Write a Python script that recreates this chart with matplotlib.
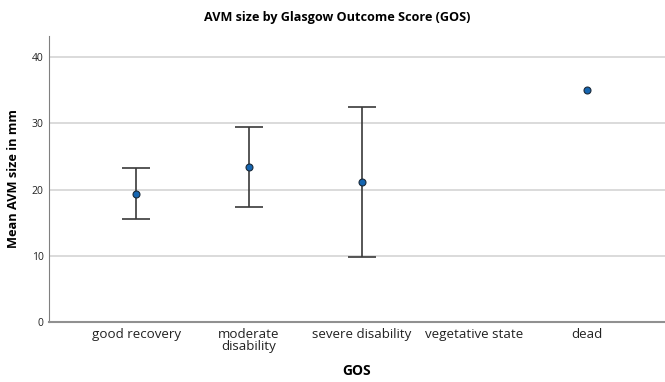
import matplotlib
matplotlib.use('Agg')
import matplotlib.pyplot as plt
import numpy as np

categories = ['good recovery', 'moderate\ndisability', 'severe disability', 'vegetative state', 'dead']
means = [19.4, 23.4, 21.2, np.nan, 35.0]
upper = [23.2, 29.5, 32.5, np.nan, np.nan]
lower = [15.6, 17.4, 9.8, np.nan, np.nan]

plt.rcParams['font.family'] = ['Open Sans', 'DejaVu Sans']

fig = plt.figure(figsize=(6.65, 3.82), dpi=100)
ax = fig.add_axes([49 / 665, 1 - 322 / 382, 1 - 49 / 665, (322 - 36) / 382])

x = np.arange(len(categories))
m = np.array(means)
yerr = np.array([m - np.array(lower), np.array(upper) - m])

ax.errorbar(x, m, yerr=yerr, fmt='none', ecolor='#3a3a3a', elinewidth=1.2,
            capsize=10, capthick=1.2, zorder=2)
ax.plot(x, m, 'o', color='#1565b0', markeredgecolor='#1a2a3a', markeredgewidth=0.8,
        markersize=5, zorder=3)

ax.set_xlim(-0.772, 4.69)
ax.set_ylim(0, 43.2)
ax.set_yticks([0, 10, 20, 30, 40])
ax.set_xticks(x)
ax.set_xticklabels(categories, fontsize=9.6, linespacing=0.95)
ax.tick_params(axis='both', length=0, colors='#222222')
ax.tick_params(axis='y', labelsize=7.5, pad=4)
ax.tick_params(axis='x', pad=4)
ax.grid(axis='y', color='#d4d4d4', linewidth=1.2, zorder=0)
ax.set_axisbelow(True)

for s in ['top', 'right']:
    ax.spines[s].set_visible(False)
ax.spines['left'].set_color('#808080')
ax.spines['bottom'].set_color('#909090')
ax.spines['bottom'].set_linewidth(1.5)

ax.set_ylabel('Mean AVM size in mm', fontsize=9.2, fontweight='bold')
ax.yaxis.set_label_coords(-29 / 616, 0.5)
ax.set_xlabel('GOS', fontsize=10, fontweight='bold', labelpad=8)
fig.text(337 / 665, 1 - 18 / 382, 'AVM size by Glasgow Outcome Score (GOS)',
         ha='center', va='center', fontsize=9.1, fontweight='bold')

fig.savefig('out.png', dpi=100)
